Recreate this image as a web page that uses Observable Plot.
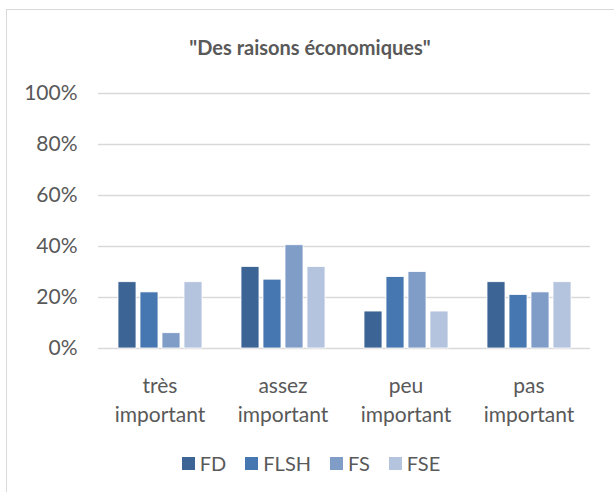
<!DOCTYPE html>
<html>
<head>
<meta charset="utf-8">
<script src="https://cdn.jsdelivr.net/npm/d3@7"></script>
<script src="https://cdn.jsdelivr.net/npm/@observablehq/plot@0.6"></script>
<style>
  body { margin: 0; background: #fff; font-family: Lato, "Open Sans", sans-serif; color: #595959; }
  #frame { position: absolute; left: 6px; top: 9px; width: 620px; height: 500px; border: 1px solid #d9d9d9; box-sizing: border-box; }
  #title { position: absolute; left: 0; width: 620px; top: 35px; text-align: center; font-weight: bold; font-size: 20px; color: #595959; }
  #chart { position: absolute; left: 0; top: 70px; }
  #legend { position: absolute; left: 0; width: 622px; top: 451px; display: flex; justify-content: center; gap: 19px; font-size: 20px; }
  .item { display: flex; align-items: center; gap: 5px; }
  .sw { width: 13px; height: 13px; display: inline-block; }
</style>
</head>
<body>
<div id="frame"></div>
<div id="title">"Des raisons économiques"</div>
<div id="chart"></div>
<div id="legend"></div>
<script>
const categories = ["très\nimportant", "assez\nimportant", "peu\nimportant", "pas\nimportant"];
const series = ["FD", "FLSH", "FS", "FSE"];
const colors = ["#3c6494", "#4677b0", "#809dc8", "#b5c4de"];
const FD   = [0.26, 0.32, 0.145, 0.26];
const FLSH = [0.22, 0.27, 0.28, 0.21];
const FS   = [0.06, 0.405, 0.30, 0.22];
const FSE  = [0.26, 0.32, 0.145, 0.26];
const yTicks = [0, 0.2, 0.4, 0.6, 0.8, 1.0];

const valuesBySeries = {FD, FLSH, FS, FSE};
const data = [];
categories.forEach((c, i) => series.forEach(s => data.push({category: c, series: s, value: valuesBySeries[s][i]})));

const chart = Plot.plot({
  width: 614,
  height: 360,
  marginLeft: 98,
  marginRight: 24,
  marginTop: 23,
  marginBottom: 82,
  style: {fontFamily: "Lato, 'Open Sans', sans-serif", fontSize: "21px", color: "#595959", background: "transparent"},
  fx: {domain: categories, padding: 0},
  x: {domain: series, paddingInner: 0.2, paddingOuter: 0.88, axis: null},
  y: {domain: [0, 1]},
  color: {domain: series, range: colors},
  marks: [
    Plot.gridY(yTicks, {stroke: "#d9d9d9", strokeOpacity: 1, strokeWidth: 1.3}),
    Plot.barY(data, {fx: "category", x: "series", y: "value", fill: "series", stroke: "white", strokeWidth: 0.8}),
    Plot.axisY({ticks: yTicks, tickFormat: d3.format(".0%"), tickSize: 0, tickPadding: 21, label: null, fontSize: 21, fill: "#595959"}),
    Plot.axisFx({anchor: "bottom", tickSize: 0, tickPadding: 24, label: null, fontSize: 21, lineHeight: 1.38, fill: "#595959"})
  ]
});
document.getElementById("chart").appendChild(chart);

const legend = document.getElementById("legend");
series.forEach((s, i) => {
  const it = document.createElement("div");
  it.className = "item";
  it.innerHTML = `<span class="sw" style="background:${colors[i]}"></span><span>${s}</span>`;
  legend.appendChild(it);
});
</script>
</body>
</html>
